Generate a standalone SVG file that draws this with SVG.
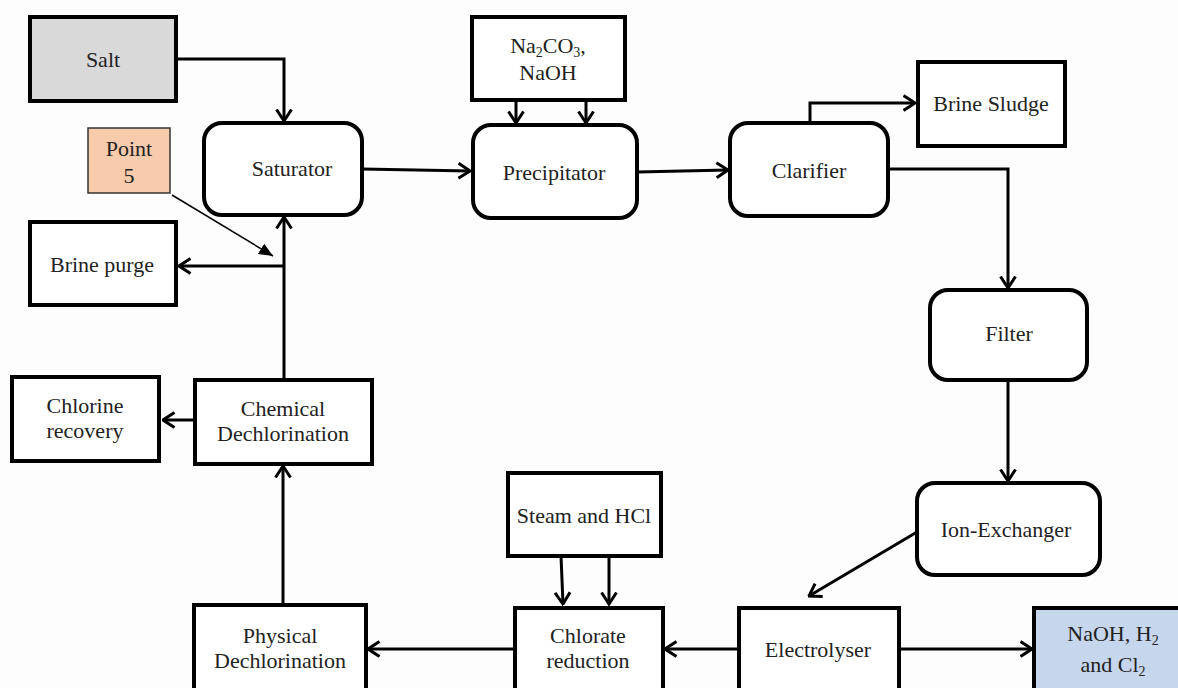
<svg xmlns="http://www.w3.org/2000/svg" width="1178" height="688" viewBox="0 0 1178 688">
<style>
text{font-family:"Liberation Serif","Times New Roman",serif;font-size:22px;fill:#222;text-anchor:middle}
.box{fill:#fff;stroke:#000;stroke-width:4}
.c{fill:none;stroke:#000;stroke-width:3}
.sub{font-size:14px}
</style>
<defs>
<marker id="ah" viewBox="0 0 14 18" refX="12.5" refY="9" markerWidth="14" markerHeight="18" markerUnits="userSpaceOnUse" orient="auto">
<path d="M1,1.5 L12.5,9 L1,16.5" fill="none" stroke="#000" stroke-width="3"/>
</marker>
<marker id="tri" viewBox="0 0 14 12" refX="14" refY="6" markerWidth="14" markerHeight="12" markerUnits="userSpaceOnUse" orient="auto">
<path d="M0,0 L14,6 L0,12 Z" fill="#000"/>
</marker>
</defs>
<rect width="1178" height="688" fill="#fdfdfd"/>
<g id="connectors">
<path class="c" d="M176,59 H284 V121" marker-end="url(#ah)"/>
<path class="c" d="M284,380 V217" marker-end="url(#ah)"/>
<path class="c" d="M284,266 H179" marker-end="url(#ah)"/>
<path d="M172,195 L273,256" stroke="#000" stroke-width="1.5" fill="none" marker-end="url(#tri)"/>
<path class="c" d="M362,169 L470,171" marker-end="url(#ah)"/>
<path class="c" d="M516,100 V123" marker-end="url(#ah)"/>
<path class="c" d="M586,100 V123" marker-end="url(#ah)"/>
<path class="c" d="M637,172 L728,170" marker-end="url(#ah)"/>
<path class="c" d="M810,123 V103 H915" marker-end="url(#ah)"/>
<path class="c" d="M888,169 H1008 V288" marker-end="url(#ah)"/>
<path class="c" d="M1008,380 V481" marker-end="url(#ah)"/>
<path class="c" d="M917,532 L809,596" marker-end="url(#ah)"/>
<path class="c" d="M899,649 H1032" marker-end="url(#ah)"/>
<path class="c" d="M739,649 H665" marker-end="url(#ah)"/>
<path class="c" d="M561,556 L563,604" marker-end="url(#ah)"/>
<path class="c" d="M609,556 V604" marker-end="url(#ah)"/>
<path class="c" d="M515,649 H368" marker-end="url(#ah)"/>
<path class="c" d="M283,605 V466" marker-end="url(#ah)"/>
<path class="c" d="M195,420 H163" marker-end="url(#ah)"/>
</g>
<g id="salt"><rect class="box" x="30" y="17" width="146" height="84" style="fill:#d9d9d9"/><text x="103" y="67">Salt</text></g>
<g id="point5"><rect x="88" y="128" width="82" height="65" fill="#f8cbad" stroke="#333" stroke-width="1.5"/><text x="129" y="156">Point</text><text x="129" y="183">5</text></g>
<g id="saturator"><rect class="box" x="204" y="123" width="158" height="92" rx="18"/><text x="292" y="176">Saturator</text></g>
<g id="brine-purge"><rect class="box" x="30" y="222" width="146" height="83"/><text x="102" y="272">Brine purge</text></g>
<g id="chemicals"><rect class="box" x="472" y="17" width="153" height="83"/><text x="548" y="53">Na<tspan class="sub" dy="4">2</tspan><tspan dy="-4">CO</tspan><tspan class="sub" dy="4">3</tspan><tspan dy="-4">,</tspan></text><text x="548" y="80">NaOH</text></g>
<g id="precipitator"><rect class="box" x="473" y="125" width="164" height="93" rx="18"/><text x="554" y="180">Precipitator</text></g>
<g id="clarifier"><rect class="box" x="730" y="123" width="158" height="93" rx="18"/><text x="809" y="178">Clarifier</text></g>
<g id="brine-sludge"><rect class="box" x="918" y="62" width="147" height="84"/><text x="991" y="111">Brine Sludge</text></g>
<g id="filter"><rect class="box" x="930" y="290" width="157" height="90" rx="18"/><text x="1009" y="341">Filter</text></g>
<g id="ion-exchanger"><rect class="box" x="917" y="483" width="183" height="92" rx="18"/><text x="1006" y="537">Ion-Exchanger</text></g>
<g id="chem-dechlorination"><rect class="box" x="195" y="380" width="177" height="84"/><text x="283" y="416">Chemical</text><text x="283" y="441">Dechlorination</text></g>
<g id="chlorine-recovery"><rect class="box" x="12" y="377" width="147" height="84"/><text x="85" y="413">Chlorine</text><text x="85" y="438">recovery</text></g>
<g id="steam-hcl"><rect class="box" x="508" y="473" width="153" height="83"/><text x="584" y="523">Steam and HCl</text></g>
<g id="phys-dechlorination"><rect class="box" x="194" y="605" width="172" height="95"/><text x="280" y="643">Physical</text><text x="280" y="668">Dechlorination</text></g>
<g id="chlorate-reduction"><rect class="box" x="515" y="608" width="148" height="92"/><text x="588" y="643">Chlorate</text><text x="588" y="668">reduction</text></g>
<g id="electrolyser"><rect class="box" x="739" y="608" width="160" height="92"/><text x="818" y="657">Electrolyser</text></g>
<g id="products"><rect x="1034" y="608" width="150" height="92" fill="#c6d6ec" stroke="#000" stroke-width="4"/><text x="1113" y="641">NaOH, H<tspan class="sub" dy="4">2</tspan></text><text x="1113" y="672">and Cl<tspan class="sub" dy="4">2</tspan></text></g>
</svg>
